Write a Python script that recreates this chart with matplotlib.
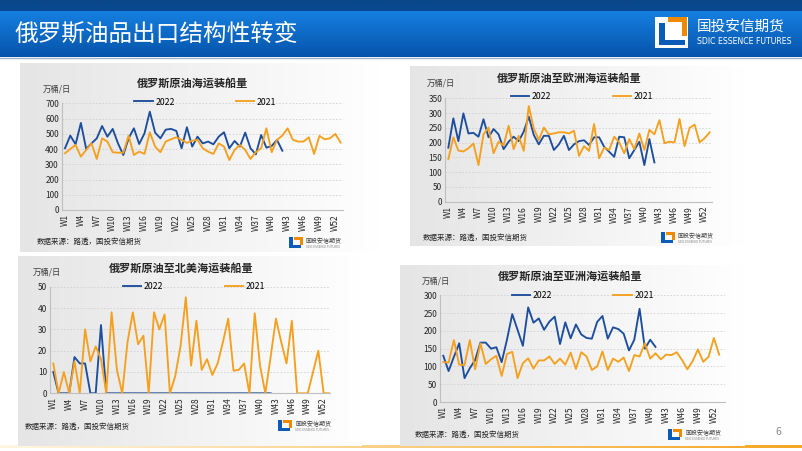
import numpy as np
import matplotlib
matplotlib.use('Agg')
import matplotlib.pyplot as plt
from matplotlib.patches import Rectangle
from matplotlib.colors import LinearSegmentedColormap
from matplotlib.lines import Line2D

plt.rcParams['font.family'] = ['Noto Sans CJK SC', 'DejaVu Sans']
plt.rcParams['axes.unicode_minus'] = False

# ---------------- data ----------------
weeks = ["W%d" % i for i in range(1, 54)]
tick_labels = ["W1", "W4", "W7", "W10", "W13", "W16", "W19", "W22", "W25", "W28",
               "W31", "W34", "W37", "W40", "W43", "W46", "W49", "W52"]
series_names = ["2022", "2021"]

total_2022 = [405, 488, 431, 571, 400, 437, 470, 551, 481, 532, 437, 361, 470, 536, 433, 503,
              645, 508, 470, 527, 532, 519, 405, 543, 416, 481, 437, 449, 431, 481, 510, 405,
              453, 416, 508, 405, 365, 492, 409, 420, 460, 389]
total_2021 = [372, 400, 427, 350, 394, 437, 335, 470, 449, 379, 376, 376, 488, 361, 383, 368,
              510, 416, 379, 449, 464, 477, 460, 440, 455, 460, 405, 383, 368, 437, 416, 328,
              394, 427, 394, 335, 379, 405, 536, 379, 460, 488, 536, 460, 449, 449, 477, 368,
              486, 464, 470, 499, 442]

europe_2022 = [183, 282, 205, 299, 231, 233, 220, 279, 218, 246, 228, 178, 203, 220, 205, 237,
               288, 226, 194, 223, 223, 175, 194, 223, 175, 194, 205, 208, 192, 218, 218, 186,
               169, 152, 220, 218, 147, 175, 203, 124, 212, 133]
europe_2021 = [144, 218, 173, 170, 181, 197, 124, 228, 251, 164, 203, 190, 257, 178, 223, 172,
               324, 248, 209, 251, 228, 231, 235, 235, 231, 240, 155, 188, 172, 263, 147, 183,
               175, 220, 201, 164, 212, 178, 231, 175, 243, 228, 276, 198, 203, 201, 280, 188,
               250, 261, 201, 215, 235]

na_2022 = [10, 0, 0, 0, 17, 14, 14, 0, 0, 32, 0, 0, 0, 0, 0, 0, 0, 0, 0, 0, 0,
           0, 0, 0, 0, 0, 0, 0, 0, 0, 0, 0, 0, 0, 0, 0, 0, 0, 0, 0, 0, 0]
na_2021 = [14, 0, 10, 0, 15, 0, 30, 15, 22, 16, 0, 38, 11, 0, 24, 38, 23, 27, 0, 38, 30, 37,
           0, 8, 22, 45, 13, 34, 11, 16, 8.6, 14, 24, 35, 10.6, 11, 14, 0, 37.5, 13, 0, 17,
           35, 24, 14, 34, 0, 0, 0, 10, 20, 0, 0]

asia_2022 = [130, 87, 127, 165, 67, 95, 118, 167, 167, 150, 154, 112, 175, 247, 203, 158,
             266, 223, 235, 203, 226, 240, 163, 224, 179, 218, 190, 180, 178, 225, 242, 178,
             210, 205, 192, 145, 175, 262, 150, 175, 155]
asia_2021 = [112, 111, 174, 105, 104, 174, 92, 165, 107, 120, 130, 73, 135, 141, 67, 109,
             123, 94, 117, 117, 128, 107, 122, 105, 139, 93, 140, 128, 90, 100, 142, 90,
             122, 113, 125, 87, 132, 128, 165, 122, 137, 120, 133, 132, 140, 118, 92, 115,
             148, 113, 127, 180, 133]

BLUE = '#1C4E9D'
ORANGE = '#F5A01E'

W, H = 802, 451
fig = plt.figure(figsize=(W / 100, H / 100), dpi=100)
fig.patch.set_facecolor('white')


def fx(x):
    return x / W


def fy(y):
    return 1 - y / H


def rect_px(x0, y0, x1, y1):
    return [fx(x0), fy(y1), (x1 - x0) / W, (y1 - y0) / H]


def gradient_axes(x0, y0, x1, y1, c0, c1, horizontal=True, z=0):
    ax = fig.add_axes(rect_px(x0, y0, x1, y1), zorder=z)
    cmap = LinearSegmentedColormap.from_list('g', [c0, c1])
    g = np.linspace(0, 1, 256)
    if horizontal:
        img = g[None, :]
    else:
        img = g[:, None]
    ax.imshow(img, aspect='auto', cmap=cmap, extent=[0, 1, 0, 1], origin='upper')
    ax.set_axis_off()
    return ax


# ---------------- header ----------------
gradient_axes(0, 0, 802, 11, '#0A4689', '#0A4A92', horizontal=False, z=0)
gradient_axes(0, 11, 802, 57, '#1680E0', '#0653AA', horizontal=False, z=0)
fig.add_artist(Line2D([0, 1], [fy(57.5), fy(57.5)], color='#9DB3CC', lw=1.0))
fig.text(fx(15), fy(34), '俄罗斯油品出口结构性转变', color='white', fontsize=17,
         ha='left', va='center')

# big logo
fig.add_artist(Rectangle((fx(655), fy(48)), 33 / W, 31 / H, transform=fig.transFigure,
                         facecolor='white', edgecolor='none', zorder=5))
fig.add_artist(Rectangle((fx(659), fy(45)), 6 / W, 22 / H, transform=fig.transFigure,
                         facecolor='#0B5CB8', edgecolor='none', zorder=6))
fig.add_artist(Rectangle((fx(659), fy(45)), 26 / W, 5 / H, transform=fig.transFigure,
                         facecolor='#0B5CB8', edgecolor='none', zorder=6))
fig.add_artist(Rectangle((fx(668), fy(22)), 19 / W, 5 / H, transform=fig.transFigure,
                         facecolor='#F08A00', edgecolor='none', zorder=6))
fig.add_artist(Rectangle((fx(682), fy(36)), 5 / W, 19 / H, transform=fig.transFigure,
                         facecolor='#F08A00', edgecolor='none', zorder=6))
fig.text(fx(697), fy(27), '国投安信期货', color='white', fontsize=10.5, ha='left', va='center')
fig.text(fx(697), fy(42), 'SDIC ESSENCE FUTURES', color='white', fontsize=5.6,
         ha='left', va='center', family=['DejaVu Sans Condensed', 'DejaVu Sans'])

# bottom line and page number
gradient_axes(0, 445, 802, 448, '#FFF6E2', '#F5A623', horizontal=True, z=0)
fig.text(fx(778), fy(432), '6', color='#8C8C8C', fontsize=7.5, ha='center', va='center')


def small_logo(x, y):
    fig.add_artist(Rectangle((fx(x), fy(y + 6)), 4 / W, 11 / H, transform=fig.transFigure,
                             facecolor='#0B5CB8', edgecolor='none', zorder=6))
    fig.add_artist(Rectangle((fx(x), fy(y + 6)), 12 / W, 3 / H, transform=fig.transFigure,
                             facecolor='#0B5CB8', edgecolor='none', zorder=6))
    fig.add_artist(Rectangle((fx(x + 5), fy(y - 2)), 9 / W, 3 / H, transform=fig.transFigure,
                             facecolor='#F08A00', edgecolor='none', zorder=6))
    fig.add_artist(Rectangle((fx(x + 11), fy(y + 3)), 3 / W, 8 / H, transform=fig.transFigure,
                             facecolor='#F08A00', edgecolor='none', zorder=6))
    fig.text(fx(x + 17), fy(y - 1), '国投安信期货', color='#404040', fontsize=4.3,
             ha='left', va='center', zorder=6)
    fig.text(fx(x + 17), fy(y + 5), 'SDIC ESSENCE FUTURES', color='#808080', fontsize=2.2,
             ha='left', va='center', zorder=6)


def draw_chart(panel, plot_px, xlim, ymax, ystep, d22, d21, title, title_xy, unit_xy,
               src_xy, logo_xy, leg_anchor):
    gradient_axes(*panel, '#E5E5E5', '#FFFFFF', horizontal=True, z=0)
    ax = fig.add_axes(rect_px(*plot_px), zorder=2)
    ax.patch.set_alpha(0)
    x = np.arange(len(weeks))
    l1, = ax.plot(x[:len(d22)], d22, color=BLUE, lw=1.35, zorder=3, solid_joinstyle='round')
    l2, = ax.plot(x[:len(d21)], d21, color=ORANGE, lw=1.35, zorder=4, solid_joinstyle='round')
    ax.set_xlim(*xlim)
    ax.set_ylim(0, ymax)
    ax.set_yticks(np.arange(0, ymax + 0.1, ystep))
    ax.set_yticklabels([str(int(v)) for v in np.arange(0, ymax + 0.1, ystep)])
    ax.set_xticks([weeks.index(t) for t in tick_labels])
    ax.set_xticklabels(tick_labels, rotation=90)
    ax.tick_params(axis='both', length=0, labelsize=6, colors='#262626', pad=2)
    ax.tick_params(axis='x', pad=3)
    for s in ['top', 'right']:
        ax.spines[s].set_visible(False)
    for s in ['left', 'bottom']:
        ax.spines[s].set_color('#BFBFBF')
        ax.spines[s].set_linewidth(0.8)
    ax.grid(axis='y', color='#D0D0D0', linestyle=(0, (2, 2)), linewidth=0.6)
    ax.set_axisbelow(True)
    ax.legend([l1, l2], series_names, loc='center', bbox_to_anchor=leg_anchor, ncol=2,
              frameon=False, fontsize=6.3, handlelength=2.1, handletextpad=0.3,
              columnspacing=7.0, borderaxespad=0, borderpad=0)
    fig.text(fx(title_xy[0]), fy(title_xy[1]), title, fontsize=8, fontweight='bold',
             color='#262626', ha='center', va='center', zorder=5)
    fig.text(fx(unit_xy[0]), fy(unit_xy[1]), '万桶/日', fontsize=6, color='#404040',
             ha='left', va='center', zorder=5)
    fig.text(fx(src_xy[0]), fy(src_xy[1]), '数据来源：路透，国投安信期货', fontsize=5.4,
             color='#262626', ha='left', va='center', zorder=5)
    small_logo(*logo_xy)
    return ax


draw_chart((20, 63, 380, 252), (61.7, 103.3, 343, 210), (-0.62, 52.45), 700, 100,
           total_2022, total_2021, '俄罗斯原油海运装船量', (192, 83), (43, 89), (37, 242),
           (289, 242), (0.51, 1.012))

draw_chart((410, 66, 745, 246), (445, 98.3, 711.7, 201.7), (-0.66, 52.4), 350, 50,
           europe_2022, europe_2021, '俄罗斯原油至欧洲海运装船量', (569, 78), (427, 83),
           (423, 238), (661, 237), (0.514, 1.013))

draw_chart((18, 256, 362, 446), (50, 286.7, 330, 393.3), (-0.62, 52.2), 50, 10,
           na_2022, na_2021, '俄罗斯原油至北美海运装船量', (181, 268), (33, 272),
           (25, 427), (278, 425), (0.514, 1.0))

draw_chart((400, 265, 745, 446), (440, 295.3, 725, 402), (-0.62, 53.1), 300, 50,
           asia_2022, asia_2021, '俄罗斯原油至亚洲海运装船量', (570, 276), (422, 281),
           (415, 435), (668, 434), (0.50, 1.0))

fig.savefig('out.png', dpi=100, facecolor=fig.get_facecolor())
